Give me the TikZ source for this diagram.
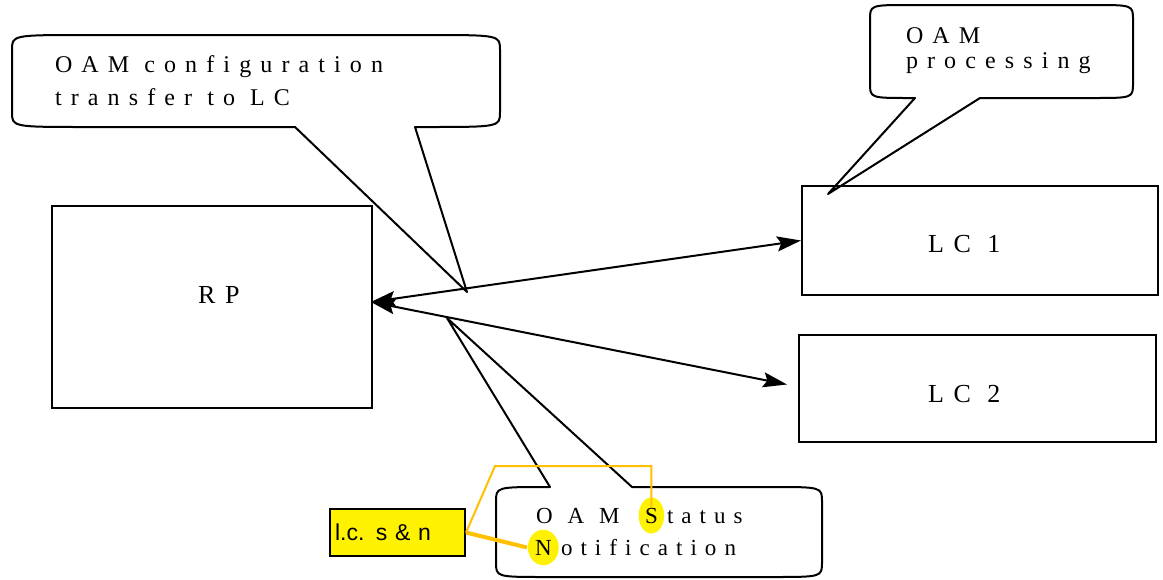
\documentclass[tikz,border=0pt]{standalone}
\usepackage{fontspec}
\setmainfont{Liberation Serif}
\newfontfamily\spacedfont[LetterSpace=38]{Liberation Serif}
\newfontfamily\statfont[LetterSpace=35]{Liberation Serif}
\newfontfamily\widefont[LetterSpace=65]{Liberation Serif}
\newfontfamily\arialfont{Liberation Sans}
\usepackage{tikz}
\usetikzlibrary{shapes.geometric, arrows.meta, positioning, calc}
\definecolor{linkorange}{HTML}{FFC000}

\begin{document}
\begin{tikzpicture}[x=0.5pt, y=-0.5pt, line width=1pt, every node/.style={font=\spacedfont\fontsize{12}{14}\selectfont}]
% Styles
\tikzstyle{block} = [rectangle, draw=black, line width=1pt, inner sep=0pt]
\tikzstyle{txt} = [inner sep=0pt, anchor=base west]
\tikzstyle{stattxt} = [txt, font=\statfont\fontsize{11.5}{13}\selectfont]
\tikzstyle{boxtxt} = [txt, font=\spacedfont\fontsize{13}{15}\selectfont]
\tikzstyle{bubble} = [draw=black, line width=1pt, line join=round]
\tikzstyle{arrow} = [line width=1pt, {Stealth[length=12pt,width=7.5pt,inset=2pt]}-{Stealth[length=12pt,width=7.5pt,inset=2pt]}]
\tikzstyle{hl} = [ellipse, fill=yellow, inner xsep=1.3pt, inner ysep=2.5pt, anchor=text, font=\rmfamily\fontsize{11.5}{13}\selectfont]
\tikzstyle{note} = [rectangle, draw=black, line width=1pt, fill=yellow, font=\arialfont\fontsize{11.5}{13}\selectfont, text width=62.5pt, inner xsep=2.5pt, minimum height=23.5pt, align=left]
\tikzstyle{link} = [draw=linkorange, line width=1pt]

\useasboundingbox (0,0) rectangle (1163,579);

% Boxes
\node (rp) [block, minimum width=160pt, minimum height=101pt] at (212,307) {};
\node (lc1) [block, minimum width=178pt, minimum height=54.5pt] at (980,240.5) {};
\node (lc2) [block, minimum width=178.5pt, minimum height=53.5pt] at (977.5,388.5) {};
\node (rp_label) [boxtxt] at (197,303) {RP};
\node (lc1_label) [boxtxt] at (927,252) {LC 1};
\node (lc2_label) [boxtxt] at (927,402) {LC 2};

% Callouts
\coordinate (cfg_tip) at (467,292);
\coordinate (proc_tip) at (828,194);
\coordinate (stat_tip) at (447,318);
\draw [bubble] (12,50) .. controls (12,35) .. (87,35) -- (425,35) .. controls (500,35) .. (500,50)
  -- (500,112) .. controls (500,127) .. (425,127) -- (415,127) -- (cfg_tip) -- (295,127)
  -- (87,127) .. controls (12,127) .. (12,112) -- cycle;
\draw [bubble] (870,20) .. controls (870,5) .. (910,5) -- (1093,5) .. controls (1133,5) .. (1133,20)
  -- (1133,83) .. controls (1133,98) .. (1093,98) -- (980,98) -- (proc_tip) -- (915,98)
  -- (910,98) .. controls (870,98) .. (870,83) -- cycle;
\draw [bubble] (496,502) .. controls (496,487) .. (546,487) -- (550,487) -- (stat_tip) -- (632,487)
  -- (772,487) .. controls (822,487) .. (822,502) -- (822,562) .. controls (822,577) .. (772,577)
  -- (546,577) .. controls (496,577) .. (496,562) -- cycle;

\node (cfg_line1) [txt] at (54,72) {OAM configuration};
\node (cfg_line2) [txt] at (54,105) {transfer to LC};
\node (proc_line1) [txt] at (905,43) {OAM};
\node (proc_line2) [txt] at (905,68) {processing};

% Status text with highlighted letters
\node (stat_oam) [stattxt, font=\widefont\fontsize{11.5}{13}\selectfont] at (535,523) {OAM};
\node (hl_s) [hl] at (645,523) {S};
\node (stat_rest) [stattxt] at ($(hl_s.text)+(21,0)$) {tatus};
\node (hl_n) [hl] at (535,555) {N};
\node (stat_line2) [stattxt] at ($(hl_n.text)+(25,0)$) {otification};

% Arrows
\coordinate (rp_port) at ($(rp.east)+(-2,-5)$);
\coordinate (lc2_port) at ($(lc2.west)+(-11,-4)$);
\draw [arrow] (rp_port) -- (lc1.west);
\draw [arrow] (rp_port) -- (lc2_port);

% Note
\node (lcsn) [note] at (397.5,532.5) {l.c. s \& n};
\coordinate (bend) at (495,466);
\draw [link] (lcsn.east) -- (bend) -| ($(hl_s.north)+(0,10)$);
\draw [link, line width=2pt] (lcsn.east) -- (hl_n.west);

\end{tikzpicture}
\end{document}
